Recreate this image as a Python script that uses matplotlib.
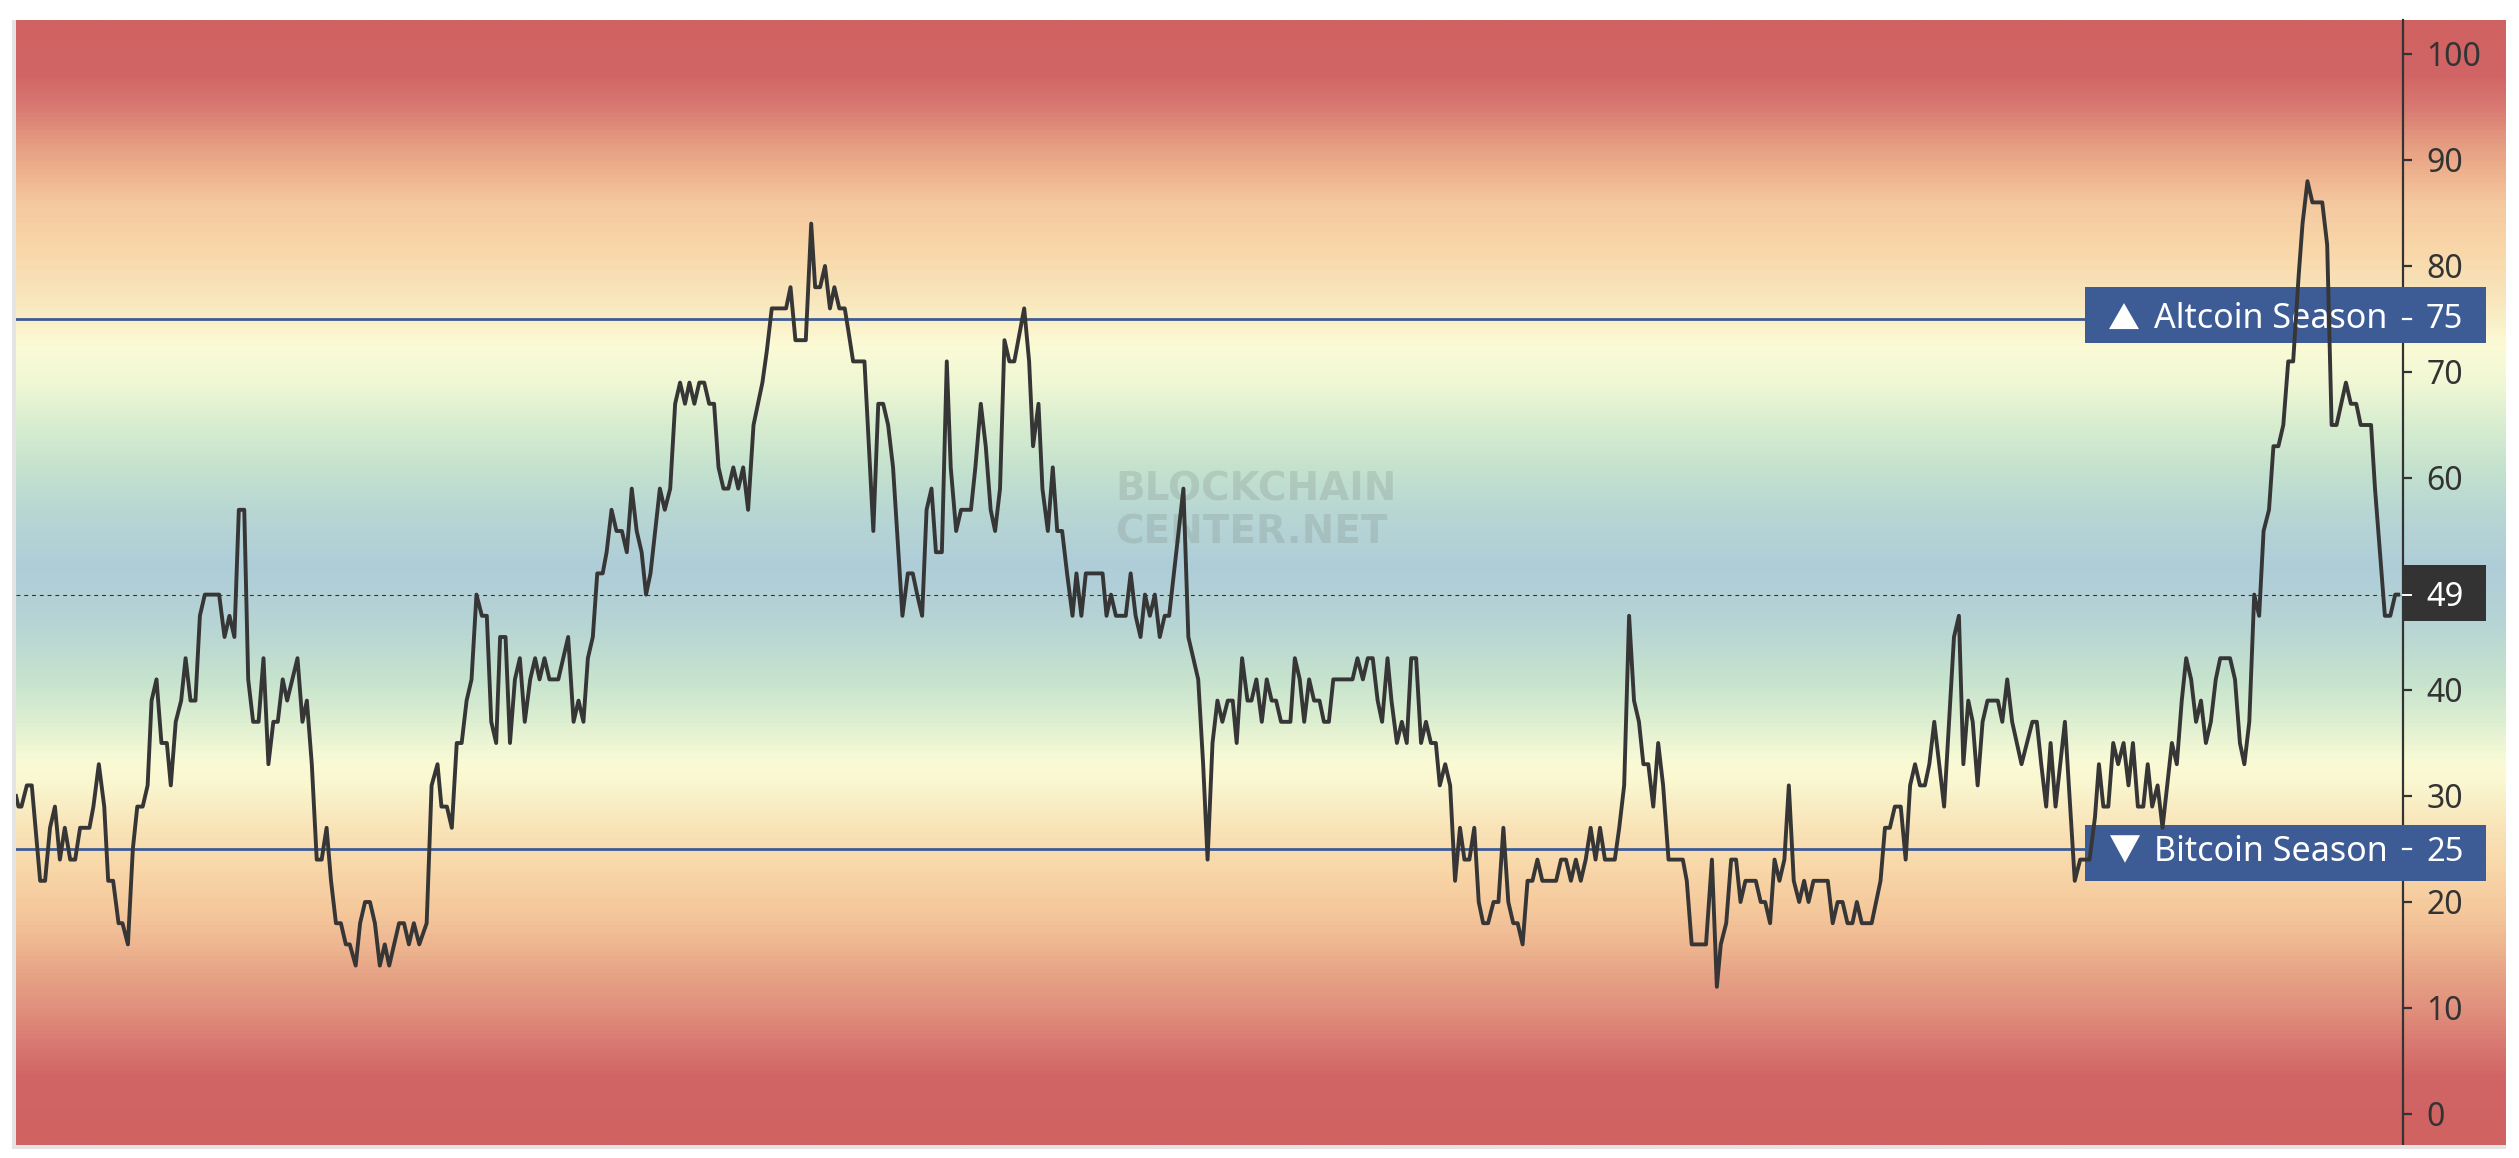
import matplotlib.pyplot as plt
import matplotlib.transforms as mtransforms
import numpy as np
from matplotlib.colors import LinearSegmentedColormap, Normalize
from matplotlib.patches import Polygon, Rectangle

# Altcoin Season Index: day number and index value
days_a = [0.0, 0.5, 1.1, 2.2, 3.2, 4.9, 5.9, 6.9, 7.9, 8.9, 9.9, 11.0, 12.0, 13.0, 14.9,
          15.7, 16.8, 17.9, 18.7, 19.7, 20.8, 21.6, 22.7, 23.7, 24.6, 25.7, 26.7, 27.5, 28.5,
          29.5, 30.6, 31.4, 32.4, 33.5, 34.4, 35.4, 36.4, 37.3, 38.3, 41.2, 42.3, 43.3, 44.3,
          45.2, 46.3, 47.1, 48.1, 49.2, 50.2, 51.2, 52.2, 53.1, 54.1, 55.0, 57.1, 58.1, 59.0,
          60.0, 61.0, 62.0, 63.0, 63.9, 64.9, 65.9, 66.9, 67.7, 68.9, 69.8, 70.8, 71.8, 72.8,
          73.8, 74.8, 75.7, 77.7, 78.7, 79.7, 80.7, 81.8, 83.3]
index_a = [30, 29, 29, 31, 31, 22, 22, 27, 29, 24, 27, 24, 24, 27, 27,
           29, 33, 29, 22, 22, 18, 18, 16, 25, 29, 29, 31, 39, 41,
           35, 35, 31, 37, 39, 43, 39, 39, 47, 49, 49, 45, 47, 45,
           57, 57, 41, 37, 37, 43, 33, 37, 37, 41, 39, 43, 37, 39,
           33, 24, 24, 27, 22, 18, 18, 16, 16, 14, 18, 20, 20, 18,
           14, 16, 14, 18, 18, 16, 18, 16, 18]

days_b = [84.3, 85.5, 86.3, 87.4, 88.4, 89.4, 90.4, 91.4, 92.4, 93.4, 94.5, 95.5, 96.4,
          97.4, 98.2, 99.3, 100.2, 101.2, 102.2, 103.2, 104.3, 105.3, 106.2, 107.2, 108.2,
          110.0, 112.0, 113.1, 114.1, 115.1, 116.0, 117.0, 117.9, 119.0, 119.8, 120.8, 121.8,
          122.9, 123.9, 124.9, 125.9, 126.9, 127.8, 128.7, 130.6, 131.6, 132.7, 133.7, 134.7,
          135.7, 136.6, 137.6, 138.6, 139.6, 140.6, 141.6, 142.5, 143.5, 144.5, 145.5, 146.5,
          147.5, 148.5, 149.6, 151.4, 152.3, 153.3, 156.2, 157.1, 158.1, 160.2, 161.3, 162.1,
          163.1, 164.1, 165.1, 166.0]
index_b = [31, 33, 29, 29, 27, 35, 35, 39, 41, 49, 47, 47, 37,
           35, 45, 45, 35, 41, 43, 37, 41, 43, 41, 43, 41,
           41, 45, 37, 39, 37, 43, 45, 51, 51, 53, 57, 55,
           55, 53, 59, 55, 53, 49, 51, 59, 57, 59, 67, 69,
           67, 69, 67, 69, 69, 67, 67, 61, 59, 59, 61, 59,
           61, 57, 65, 69, 72, 76, 76, 78, 73, 73, 84, 78,
           78, 80, 76, 78]

days_c = [167.0, 168.1, 168.8, 169.8, 172.1, 173.9, 174.9, 175.9, 176.9, 177.9, 179.8, 180.9,
          181.9, 182.8, 183.8, 184.7, 185.7, 186.6, 187.8, 188.8, 189.6, 190.7, 191.7, 193.7,
          194.6, 195.7, 196.7, 197.7, 198.6, 199.6, 200.5, 201.5, 202.5, 204.5, 205.5, 206.3,
          207.4, 208.2, 209.3, 210.3, 211.2, 212.2, 213.2, 214.3, 215.1, 216.1, 217.0, 220.4,
          221.2, 222.1, 223.1, 225.1, 226.1, 227.1, 228.1, 229.0, 230.0, 231.0, 232.0, 233.0,
          233.9, 236.8, 237.8, 239.8, 240.8, 241.7, 242.7, 243.7, 244.7, 245.8, 246.8, 247.6,
          248.7, 249.8, 250.6]
index_c = [76, 76, 74, 71, 71, 55, 67, 67, 65, 61, 47, 51,
           51, 49, 47, 57, 59, 53, 53, 71, 61, 55, 57, 57,
           61, 67, 63, 57, 55, 59, 73, 71, 71, 76, 71, 63,
           67, 59, 55, 61, 55, 55, 51, 47, 51, 47, 51, 51,
           47, 49, 47, 47, 51, 47, 45, 49, 47, 49, 45, 47,
           47, 59, 45, 41, 33, 24, 35, 39, 37, 39, 39, 35,
           43, 39, 39]

days_d = [251.6, 252.7, 253.7, 254.7, 255.6, 256.6, 258.5, 259.4, 260.4, 261.3, 262.3, 263.3,
          264.4, 265.3, 266.3, 267.2, 271.1, 272.1, 273.2, 274.2, 275.2, 276.2, 277.1, 278.2,
          279.0, 280.1, 281.1, 282.1, 283.0, 284.0, 285.0, 286.0, 287.0, 288.0, 288.8, 289.9,
          290.9, 291.9, 292.9, 293.8, 294.8, 295.8, 296.7, 297.6, 298.6, 299.7, 300.7, 301.7,
          302.7, 303.7, 304.6, 305.6, 306.6, 307.6, 308.6, 309.6, 312.4, 313.4, 314.4, 315.4,
          316.4, 317.4, 318.4, 319.4, 320.4, 321.3, 322.3, 324.3, 325.2, 326.2, 327.2, 328.2,
          329.2, 330.1, 331.1, 332.1, 333.1, 334.1, 335.2]
index_d = [41, 37, 41, 39, 39, 37, 37, 43, 41, 37, 41, 39,
           39, 37, 37, 41, 41, 43, 41, 43, 43, 39, 37, 43,
           39, 35, 37, 35, 43, 43, 35, 37, 35, 35, 31, 33,
           31, 22, 27, 24, 24, 27, 20, 18, 18, 20, 20, 27,
           20, 18, 18, 16, 22, 22, 24, 22, 22, 24, 24, 22,
           24, 22, 24, 27, 24, 27, 24, 24, 27, 31, 47, 39,
           37, 33, 33, 29, 35, 31, 24]

days_e = [338.1, 338.9, 339.9, 342.8, 344.0, 345.0, 345.8, 346.9, 347.9, 348.9, 349.8, 350.8,
          352.9, 353.9, 354.8, 355.8, 356.7, 357.7, 358.7, 359.6, 360.6, 361.7, 362.7, 363.6,
          364.6, 367.5, 368.5, 369.5, 370.5, 371.5, 372.5, 373.4, 374.4, 376.4, 378.2, 379.1,
          380.1, 381.1, 382.3, 383.3, 384.2, 385.2, 386.2, 387.2, 388.1, 389.1, 390.1, 391.1,
          392.1, 393.1, 394.1, 395.0, 396.0, 396.9, 397.9, 398.9, 399.9, 402.0, 402.9, 403.9,
          404.9, 406.8, 409.0, 409.9, 410.8, 411.8, 412.7, 413.7, 415.6, 417.6, 418.7, 420.6]
index_e = [24, 22, 16, 16, 24, 12, 16, 18, 24, 24, 20, 22,
           22, 20, 20, 18, 24, 22, 24, 31, 22, 20, 22, 20,
           22, 22, 18, 20, 20, 18, 18, 20, 18, 18, 22, 27,
           27, 29, 29, 24, 31, 33, 31, 31, 33, 37, 33, 29,
           37, 45, 47, 33, 39, 37, 31, 37, 39, 39, 37, 41,
           37, 33, 37, 37, 33, 29, 35, 29, 37, 22, 24, 24]

days_f = [421.7, 422.5, 423.4, 424.4, 425.4, 426.4, 427.5, 428.5, 429.4, 430.4, 431.5, 432.4,
          433.3, 434.4, 435.4, 437.3, 438.3, 439.3, 440.2, 441.2, 442.2, 443.2, 444.2, 445.2,
          446.2, 447.1, 449.1, 450.1, 451.1, 452.0, 453.0, 454.0, 455.0, 455.9, 457.0, 457.9,
          458.9, 459.9, 460.9, 461.9, 463.0, 463.8, 464.8, 465.8, 467.8, 468.8, 469.7, 470.7,
          472.6, 473.6, 474.7, 475.6, 477.7, 478.5, 479.5, 480.5, 481.6, 482.6, 483.2]
index_f = [28, 33, 29, 29, 35, 33, 35, 31, 35, 29, 29, 33,
           29, 31, 27, 35, 33, 39, 43, 41, 37, 39, 35, 37,
           41, 43, 43, 41, 35, 33, 37, 49, 47, 55, 57, 63,
           63, 65, 71, 71, 79, 84, 88, 86, 86, 82, 65, 65,
           69, 67, 67, 65, 65, 59, 53, 47, 47, 49, 49]

y_ticks = [0, 10, 20, 30, 40, 50, 60, 70, 80, 90, 100]
altcoin_level = 75
bitcoin_level = 25
current_value = 49
altcoin_label = "Altcoin Season"
bitcoin_label = "Bitcoin Season"

# figure geometry in pixels of the 2519x1158 output
W, H = 2519, 1158
LEFT, TOP, BOTTOM = 16, 20, 1145
SPINE_X, BG_RIGHT = 2403, 2506
PX_PER_DAY = 4.93
ZERO_Y, PX_PER_POINT = 1114, 10.6

BLUE = "#3D5C96"
DARK = "#333333"
LINE = "#363636"


def gradient_cmap(y_lo: float, y_hi: float) -> LinearSegmentedColormap:
    stops = [
        (y_lo, "#D06262"), (3, "#D16464"), (6, "#D87670"), (9.5, "#E08E7C"),
        (12.6, "#E6A084"), (15.8, "#EEB690"), (19, "#F5C89C"), (22.5, "#F8D5A6"),
        (27, "#F9E4B8"), (31, "#FAF6D0"), (33, "#FBFBD6"), (37, "#DDEFD1"),
        (41, "#C6E3CE"), (46, "#B7D5D4"), (51.5, "#AFCDD8"), (57, "#B8D7D3"),
        (61, "#C5E2CE"), (65, "#D8EDD0"), (69, "#F0F7D4"), (72.5, "#FBFBD6"),
        (77, "#F9E6BC"), (82, "#F8D6A8"), (86, "#F5C9A0"), (89, "#EEB28E"),
        (92, "#E49A80"), (95.5, "#D87670"), (98.5, "#D16464"), (y_hi, "#D06262"),
    ]
    return LinearSegmentedColormap.from_list(
        "season", [((v - y_lo) / (y_hi - y_lo), c) for v, c in stops]
    )


def main() -> None:
    days = np.concatenate([days_a, days_b, days_c, days_d, days_e, days_f])
    index = np.concatenate([index_a, index_b, index_c, index_d, index_e, index_f])

    y_lo = (ZERO_Y - BOTTOM) / PX_PER_POINT
    y_hi = (ZERO_Y - TOP) / PX_PER_POINT

    fig = plt.figure(figsize=(W / 100, H / 100), dpi=100)
    fig.patch.set_facecolor("white")
    rect_b = 1 - BOTTOM / H
    rect_h = (BOTTOM - TOP) / H

    # gradient background (runs under the price scale as well)
    bg = fig.add_axes([LEFT / W, rect_b, (BG_RIGHT - LEFT) / W, rect_h])
    grad = np.linspace(y_lo, y_hi, 1400).reshape(-1, 1)
    bg.imshow(grad, extent=[0, 1, y_lo, y_hi], origin="lower", aspect="auto",
              cmap=gradient_cmap(y_lo, y_hi), norm=Normalize(y_lo, y_hi),
              interpolation="bilinear")
    bg.set_xlim(0, 1)
    bg.set_ylim(y_lo, y_hi)
    bg.axis("off")

    # light frame left and bottom
    fig.add_artist(Rectangle((12 / W, rect_b), 4 / W, rect_h, transform=fig.transFigure,
                             color="#E4E4E4", lw=0))
    fig.add_artist(Rectangle((12 / W, 1 - (BOTTOM + 4) / H), (BG_RIGHT - 12) / W, 4 / H,
                             transform=fig.transFigure, color="#E4E4E4", lw=0))

    ax = fig.add_axes([LEFT / W, rect_b, (SPINE_X - LEFT) / W, rect_h])
    ax.patch.set_alpha(0)
    ax.set_xlim(0, (SPINE_X - LEFT) / PX_PER_DAY)
    ax.set_ylim(y_lo, y_hi)
    for side in ("left", "top", "bottom"):
        ax.spines[side].set_visible(False)
    ax.spines["right"].set_color(DARK)
    ax.spines["right"].set_linewidth(1.6)
    ax.set_xticks([])
    ax.yaxis.tick_right()
    ax.set_yticks(y_ticks)
    # the 50 label sits under the current-value tag, so it is left blank
    ax.set_yticklabels(["" if t == 50 else str(t) for t in y_ticks])
    ax.tick_params(axis="y", length=6.5, width=1.6, color=DARK, pad=10.5,
                   labelsize=23, labelcolor=DARK)
    for lab in ax.get_yticklabels():
        lab.set_fontfamily("Noto Sans")

    trans = mtransforms.blended_transform_factory(fig.transFigure, ax.transData)

    # watermark
    for txt, y in (("BLOCKCHAIN", 58.9), ("CENTER.NET", 54.9)):
        ax.text(1115 / W, y, txt, transform=trans, ha="left", va="center",
                fontsize=28, fontweight="bold", family="DejaVu Sans",
                color="#7D8A86", alpha=0.25, zorder=1.5)

    ax.axhline(altcoin_level, color=BLUE, lw=2.0, zorder=2)
    ax.axhline(bitcoin_level, color=BLUE, lw=2.0, zorder=2)
    ax.axhline(current_value, color=DARK, lw=0.8, ls=(0, (3.5, 3.5)), zorder=2)

    ax.plot(days, index, color=LINE, lw=2.8, zorder=4, clip_on=False)

    half = 2.65

    def season_box(level, label, up, text_base):
        ax.add_patch(Rectangle((2085 / W, level + 0.35 * up - half), (2486 - 2085) / W,
                               2 * half, transform=trans, color=BLUE, lw=0,
                               clip_on=False, zorder=3))
        if up > 0:
            tri = [(2109 / W, 74.05), (2139 / W, 74.05), (2124 / W, 76.5)]
        else:
            tri = [(2110 / W, 26.3), (2140 / W, 26.3), (2125 / W, 23.7)]
        ax.add_patch(Polygon(tri, closed=True, transform=trans, color="white", lw=0,
                             clip_on=False, zorder=3.5))
        ax.text(2154 / W, text_base, label, transform=trans, ha="left", va="baseline",
                fontsize=24.5, family="Noto Sans", color="white", zorder=3.5,
                clip_on=False)
        ax.text(2426 / W, text_base, str(level), transform=trans, ha="left",
                va="baseline", fontsize=23.5, family="Noto Sans", color="white",
                zorder=3.5, clip_on=False)
        ax.plot([SPINE_X / W, 2411 / W], [level, level], transform=trans, color="white",
                lw=1.6, clip_on=False, zorder=3.5)

    season_box(altcoin_level, altcoin_label, 1, 74.15)
    season_box(bitcoin_level, bitcoin_label, -1, 23.9)

    # current value tag
    ax.add_patch(Rectangle((2402 / W, current_value + 0.15 - half), (2486 - 2402) / W,
                           2 * half, transform=trans, color=DARK, lw=0, clip_on=False,
                           zorder=3))
    ax.text(2426 / W, current_value - 1.1, str(current_value), transform=trans,
            ha="left", va="baseline", fontsize=23.5, family="Noto Sans", color="white",
            zorder=3.5, clip_on=False)
    ax.plot([SPINE_X / W, 2411 / W], [current_value, current_value], transform=trans,
            color="white", lw=1.4, clip_on=False, zorder=3.5)

    fig.savefig("out.png", dpi=100)
    plt.close(fig)


if __name__ == "__main__":
    main()
